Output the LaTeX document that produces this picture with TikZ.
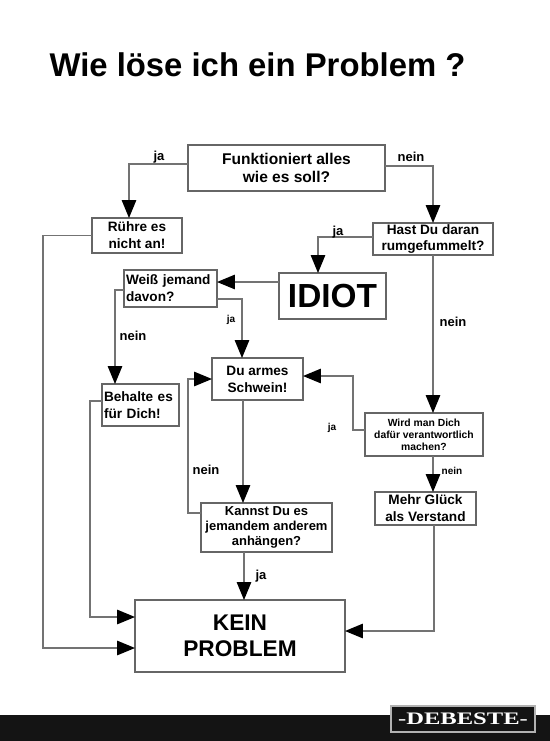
\documentclass[tikz,border=0pt]{standalone}
\usepackage{fontspec}
\setmainfont{Liberation Sans}
\newfontfamily\wmfont{Liberation Serif}
\usepackage{tikz}
\usetikzlibrary{positioning,arrows.meta,calc}

\begin{document}
\begin{tikzpicture}[x=0.02cm,y=-0.02cm,
  >={Triangle[length=3.6mm,width=2.9mm,color=black]},
  ln/.style={draw=black!55,line width=0.8pt},
  box/.style={draw=black!60,line width=0.9pt,fill=white,inner sep=0pt,outer sep=0pt,
    align=center,font=\bfseries\fontsize{7.75}{9.6}\selectfont},
  lbl/.style={inner sep=0pt,font=\bfseries\fontsize{7.4}{8}\selectfont},
  slbl/.style={lbl,font=\bfseries\fontsize{5.7}{6}\selectfont}]
\fill[white] (0,0) rectangle (550,741);
\useasboundingbox (0,0) rectangle (550,741);
\node[anchor=base,font=\bfseries\fontsize{18.7}{20}\selectfont] (title) at (257.5,76) {Wie löse ich ein Problem ?};
% boxes
\node[box,minimum width=3.94cm,minimum height=0.92cm,font=\bfseries\fontsize{8.85}{10.2}\selectfont] (fkt) at (286.5,168) {Funktioniert alles\\wie es soll?};
\node[box,minimum width=1.8cm,minimum height=0.7cm] (ruehre) at (137,235.5) {Rühre es\\nicht an!};
\node[box,minimum width=2.4cm,minimum height=0.64cm] (hast) at (433,239) {Hast Du daran\\rumgefummelt?};
\node[box,minimum width=2.14cm,minimum height=0.92cm,font=\bfseries\fontsize{19}{20}\selectfont] (idiot) at (332.5,296) {IDIOT};
\node[box,text width=1.78cm,inner xsep=0.04cm,minimum height=0.74cm,align=left] (weiss) at (170.5,288.5) {Weiß jemand\\davon?};
\node[box,text width=1.46cm,inner xsep=0.04cm,minimum height=0.84cm,align=left] (behalte) at (140.5,405) {Behalte es\\für Dich!};
\node[box,minimum width=1.82cm,minimum height=0.84cm] (schwein) at (257.5,379) {Du armes\\Schwein!};
\node[box,minimum width=2.36cm,minimum height=0.86cm,font=\bfseries\fontsize{5.9}{6.8}\selectfont] (wird) at (424,434.5) {Wird man Dich\\dafür verantwortlich\\machen?};
\node[box,minimum width=2.02cm,minimum height=0.66cm] (mehr) at (425.5,508.5) {Mehr Glück\\als Verstand};
\node[box,minimum width=2.62cm,minimum height=0.98cm,font=\bfseries\fontsize{7.4}{8.5}\selectfont] (kannst) at (266.5,527.5) {Kannst Du es\\jemandem anderem\\anhängen?};
\node[box,minimum width=4.2cm,minimum height=1.44cm,font=\bfseries\fontsize{12.9}{14.7}\selectfont] (kein) at (240,636) {KEIN\\PROBLEM};
% connectors
\coordinate (sw-out) at ($(schwein.south)+(-14.5,0)$);
\coordinate (kn-out) at ($(kannst.south)+(-22.5,0)$);
\draw[ln,->] ($(fkt.west)+(0,-4)$) -| ($(ruehre.north)+(-8,0)$);
\draw[ln,->] ($(fkt.east)+(0,-2)$) -| (hast.north);
\draw[ln,->] ($(hast.west)+(0,-2)$) -| ($(idiot.north)+(-14.5,0)$);
\draw[ln,->] ($(idiot.west)+(0,-14)$) -- ($(weiss.east)+(0,-6.5)$);
\draw[ln,->] ($(weiss.east)+(0,10.5)$) -| ($(schwein.north)+(-15.5,0)$);
\draw[ln,->] ($(weiss.west)+(0,1.5)$) -| ($(behalte.north)+(-25.5,0)$);
\draw[ln,->] ($(behalte.west)+(0,-4)$) -- ++(-12,0) |- ($(kein.west)+(0,-19)$);
\draw[ln,->] (ruehre.west) -- ++(-49,0) |- ($(kein.west)+(0,12)$);
\draw[ln,->] ($(kannst.west)+(0,-14.5)$) -- ++(-13,0) |- (schwein.west);
\draw[ln,->] ($(wird.west)+(0,-4.5)$) -- ++(-12,0) |- ($(schwein.east)+(0,-3)$);
\draw[ln,->] (hast.south) -- (hast.south |- wird.north);
\draw[ln,->] (hast.south |- wird.south) -- (hast.south |- mehr.north);
\draw[ln,->] ($(mehr.south)+(8.5,0)$) |- ($(kein.east)+(0,-5)$);
\draw[ln,->] (sw-out) -- (sw-out |- kannst.north);
\draw[ln,->] (kn-out) -- (kn-out |- kein.north);
% ja / nein
\foreach \n/\x/\y/\t in {a/159/157/ja,b/411/157/nein,c/338/232/ja,d/133/336/nein,
  e/453/322/nein,f/206/470/nein,g/261/576/ja}{
  \node[lbl] (lbl-\n) at (\x,\y) {\t};}
\foreach \n/\x/\y/\t in {a/231/320/ja,b/332/428/ja,c/452/471/nein}{
  \node[slbl] (slbl-\n) at (\x,\y) {\t};}
% footer
\fill[black!92] (0,715) rectangle (550,741);
\node[draw=black!30,line width=0.8pt,fill=black!92,text=white,minimum width=2.88cm,
  minimum height=0.52cm,inner sep=0pt,font=\wmfont\bfseries\fontsize{10}{10}\selectfont]
  (wm) at (463,719) {\scalebox{1.4}[1]{-DEBESTE-}};
\end{tikzpicture}
\end{document}
